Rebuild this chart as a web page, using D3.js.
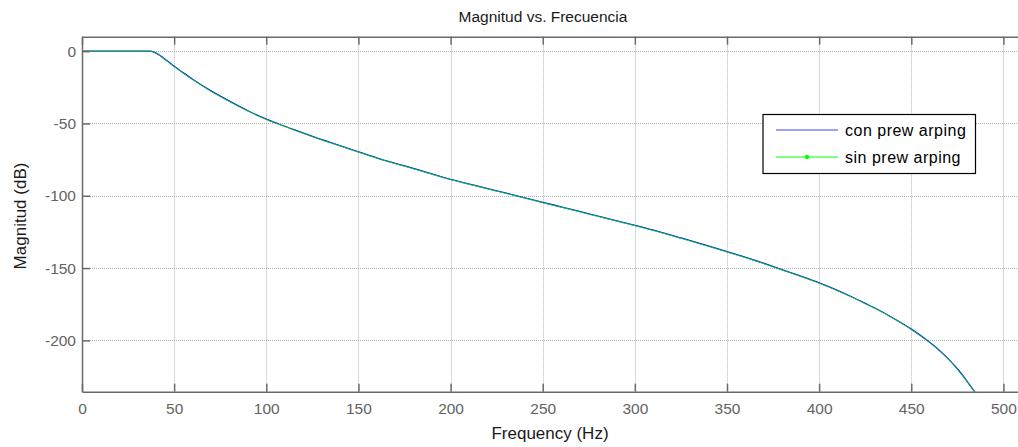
<!DOCTYPE html>
<html>
<head>
<meta charset="utf-8">
<script src="https://cdn.jsdelivr.net/npm/d3@7"></script>
<style>
  html, body { margin: 0; padding: 0; background: #fff; }
  svg { display: block; font-family: "Liberation Sans", Arial, sans-serif; }
</style>
</head>
<body>
<svg id="chart" width="1018" height="447"></svg>
<script>
// ---- data ----
const frequencies = [0, 37, 40, 43, 46, 50, 55, 60, 70, 80, 90, 100, 106.4, 115, 125, 137, 150, 162, 175, 187, 200, 212, 225, 236, 250, 262, 275, 287, 300, 312, 325, 337, 350, 363, 377, 388, 400, 409, 417, 425, 433, 441, 450, 458, 465, 471, 476, 480, 484.4, 490];
const conPrewarping = [0, 0, -1.2, -3.6, -6.5, -10.5, -15, -19.4, -27.5, -34.6, -41.2, -47, -50.2, -54.3, -58.9, -64.1, -69.6, -74.6, -79.4, -83.8, -88.6, -92.5, -96.6, -100, -104.6, -108.3, -112.5, -116.3, -120.5, -124.5, -129.2, -133.7, -138.7, -143.8, -149.8, -154.7, -160.2, -164.9, -169.5, -174.4, -179.5, -185.2, -192.2, -199.4, -206.6, -214, -221.2, -227.8, -235.6, -245.8];
const sinPrewarping = [0, 0, -1.3, -3.7, -6.7, -10.7, -15.2, -19.6, -27.7, -34.8, -41.4, -47.2, -50.4, -54.5, -59.1, -64.3, -69.8, -74.8, -79.6, -84, -88.8, -92.7, -96.8, -100.2, -104.8, -108.5, -112.7, -116.5, -120.7, -124.7, -129.4, -133.9, -138.9, -144, -150, -154.9, -160.4, -165.1, -169.7, -174.6, -179.7, -185.4, -192.4, -199.6, -206.8, -214.2, -221.4, -228, -235.8, -246];
const xTicks = [0, 50, 100, 150, 200, 250, 300, 350, 400, 450, 500];
const yTicks = [0, -50, -100, -150, -200];
const xLimits = [0, 509];
const yLimits = [-235.5, 10];
const seriesNames = ["con prew arping", "sin prew arping"];
const titleText = "Magnitud vs. Frecuencia";
const xLabelText = "Frequency (Hz)";
const yLabelText = "Magnitud (dB)";

// ---- layout ----
const svg = d3.select("#chart");
const pLeft = 82, pRight = 1020, pTop = 36.7, pBottom = 391.7;

const x = d3.scaleLinear().domain(xLimits).range([pLeft, pRight]);
const y = d3.scaleLinear().domain(yLimits).range([pBottom, pTop]);

const defs = svg.append("defs");
defs.append("clipPath").attr("id", "clip")
  .append("rect").attr("x", pLeft).attr("y", pTop)
  .attr("width", pRight - pLeft).attr("height", pBottom - pTop);

// grid
const grid = svg.append("g");
grid.selectAll(".gx").data(xTicks).join("line")
  .attr("x1", d => Math.round(x(d)) + 0.5).attr("x2", d => Math.round(x(d)) + 0.5)
  .attr("y1", pTop).attr("y2", pBottom)
  .attr("stroke", "#b4b4b4").attr("stroke-width", 1).attr("stroke-dasharray", "1,1");
grid.selectAll(".gy").data(yTicks).join("line")
  .attr("x1", pLeft).attr("x2", pRight)
  .attr("y1", d => Math.round(y(d)) + 0.5).attr("y2", d => Math.round(y(d)) + 0.5)
  .attr("stroke", "#b4b4b4").attr("stroke-width", 1).attr("stroke-dasharray", "1,1");

// lines
const line = (vals) => d3.line()
  .x((d, i) => x(frequencies[i]))
  .y(d => y(d))
  .curve(d3.curveMonotoneX)(vals);

const plot = svg.append("g").attr("clip-path", "url(#clip)");
plot.append("path").attr("d", line(conPrewarping))
  .attr("fill", "none").attr("stroke", "#0000ff").attr("stroke-width", 1.3);
plot.append("path").attr("d", line(sinPrewarping))
  .attr("fill", "none").attr("stroke", "#00ff00").attr("stroke-width", 1)
  .attr("stroke-opacity", 0.75);

// axes (box + ticks)
const axisColor = "#6a6a6a";
const fmt = d => String(d);
const xAxisBottom = d3.axisBottom(x).tickValues(xTicks).tickFormat(fmt).tickSizeInner(-8).tickSizeOuter(0).tickPadding(11);
const xAxisTop = d3.axisTop(x).tickValues(xTicks).tickSizeInner(-8).tickSizeOuter(0).tickFormat("");
const yAxisLeft = d3.axisLeft(y).tickValues(yTicks).tickFormat(fmt).tickSizeInner(-8).tickSizeOuter(0).tickPadding(6);

function styleAxis(g) {
  g.select(".domain").attr("stroke", axisColor).attr("stroke-width", 1.5);
  g.selectAll(".tick line").attr("stroke", axisColor).attr("stroke-width", 1.5);
  g.selectAll(".tick text").attr("fill", "#636363").style("font-size", "15.5px")
    .style("font-family", "'Liberation Sans', Arial, sans-serif");
}
svg.append("g").attr("transform", `translate(0,${pBottom})`).call(xAxisBottom).call(styleAxis);
svg.append("g").attr("transform", `translate(0,${pTop})`).call(xAxisTop).call(styleAxis);
svg.append("g").attr("transform", `translate(${pLeft},0)`).call(yAxisLeft).call(styleAxis);

// title & labels
svg.append("text").attr("x", 543).attr("y", 22).attr("text-anchor", "middle")
  .style("font-size", "15.5px").attr("fill", "#1a1a1a").text(titleText);
svg.append("text").attr("x", 550).attr("y", 439).attr("text-anchor", "middle")
  .style("font-size", "17px").attr("fill", "#1a1a1a").text(xLabelText);
svg.append("text").attr("transform", `translate(26,216) rotate(-90)`).attr("text-anchor", "middle")
  .style("font-size", "17px").attr("fill", "#1a1a1a").text(yLabelText);

// legend
const lg = svg.append("g");
lg.append("rect").attr("x", 763).attr("y", 114.5).attr("width", 212.5).attr("height", 59)
  .attr("fill", "#fff").attr("stroke", "#000").attr("stroke-width", 1.2);
const legendColors = ["#0000ff", "#00ff00"];
const legendY = [130, 157];
seriesNames.forEach((name, i) => {
  lg.append("line").attr("x1", 776).attr("x2", 838).attr("y1", legendY[i]).attr("y2", legendY[i])
    .attr("stroke", legendColors[i]).attr("stroke-width", 1).attr("stroke-opacity", i === 0 ? 0.75 : 1);
  if (i === 1) {
    lg.append("circle").attr("cx", 807).attr("cy", legendY[i]).attr("r", 2.2).attr("fill", legendColors[i]);
  }
  lg.append("text").attr("x", 845).attr("y", legendY[i] + 6)
    .style("font-size", "16px").style("letter-spacing", "0.5px").attr("fill", "#000").text(name);
});
</script>
</body>
</html>
